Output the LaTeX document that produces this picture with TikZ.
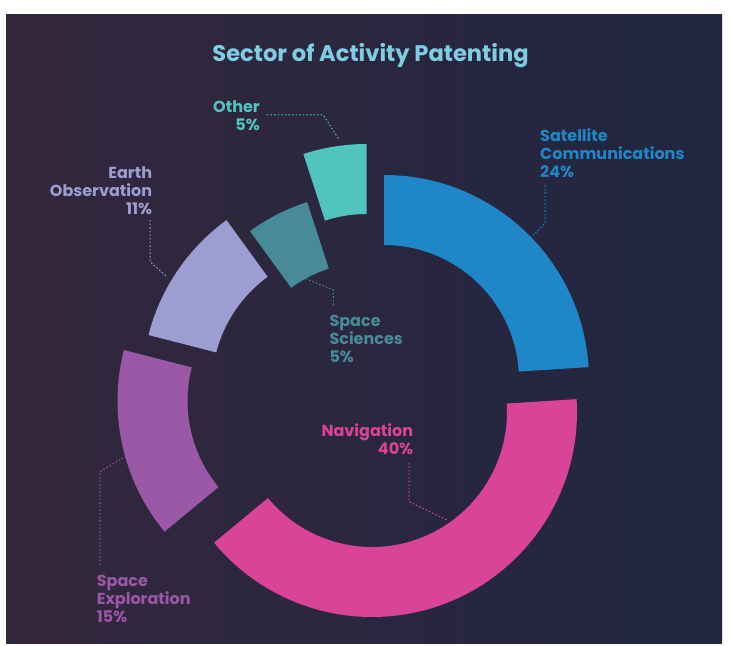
\documentclass[tikz,border=0pt]{standalone}
\usepackage{fontspec}
\setmainfont{Poppins}
\usetikzlibrary{calc}

\definecolor{bgleft}{HTML}{33273D}
\definecolor{bgright}{HTML}{212641}
\definecolor{titlecol}{HTML}{7FCDE3}
\definecolor{satcol}{HTML}{1F87C7}
\definecolor{navcol}{HTML}{D94398}
\definecolor{expcol}{HTML}{9A58A6}
\definecolor{earthcol}{HTML}{9C9DD0}
\definecolor{scicol}{HTML}{478A98}
\definecolor{othcol}{HTML}{52C4C0}

\begin{document}
\begin{tikzpicture}
[
x=1pt, y=1pt,
every node/.style={inner sep=0pt, font=\fontsize{16}{18}\selectfont\bfseries},
leader/.style={line width=1pt, dash pattern=on 1.6pt off 2pt}
]
\useasboundingbox (0,0) rectangle (730,645);
\fill[white] (0,0) rectangle (730,645);
\shade[left color=bgleft, right color=bgright] (6,2) rectangle (722,630);

% ring pieces: centre x / centre y / start / end / colour
\foreach \cx/\cy/\a/\b/\col in {384/265/90/3.6/satcol, 372/233/3.6/-140.4/navcol,
  322.5/244/-140.4/-194.4/expcol, 347/259/-194.4/-234/earthcol,
  370.5/248/-234/-252/scicol, 366.7/296/-252/-270/othcol}
  \fill[\col] ($(\cx,\cy)+(\a:205)$) arc[start angle=\a, end angle=\b, radius=205pt]
    -- ($(\cx,\cy)+(\b:135)$) arc[start angle=\b, end angle=\a, radius=135pt] -- cycle;

\node[font=\fontsize{22.6}{26}\selectfont\bfseries, text=titlecol, anchor=base] (title) at (370.5,583) {Sector of Activity Patenting};

% labels
\node[text=othcol, align=right, anchor=north east] (other) at (260,544.5) {Other\\5\%};
\node[text=earthcol, align=right, anchor=north east] (earth) at (152.3,479) {Earth\\Observation\\11\%};
\node[text=scicol, align=left, anchor=north west] (sci) at (329.3,330) {Space\\Sciences\\5\%};
\node[text=satcol, align=left, anchor=north west] (sat) at (540,517) {Satellite\\Communications\\24\%};
\node[text=navcol, align=right, anchor=north east] (nav) at (413.3,221.7) {Navigation\\40\%};
\node[text=expcol, align=left, anchor=north west] (expl) at (96.7,70) {Space\\Exploration\\15\%};

% leader ends on the ring
\coordinate (other-tip) at (339.3,505);
\coordinate (earth-tip) at (166,369);
\coordinate (sci-tip) at (305,366.7);
\coordinate (sat-tip) at (533.3,410);
\coordinate (nav-tip) at (448.3,124.3);
\coordinate (expl-tip) at (125,188.3);

\draw[leader, othcol] ([shift={(6.7,-14.5)}]other.north east) -- ++(56.6,0) -- (other-tip);
\draw[leader, earthcol] ([shift={(-2.3,-54)}]earth.north east) -- ++(0,-41.7) -- (earth-tip);
\draw[leader, scicol] ([shift={(4,10)}]sci.north west) -- ++(0,15) -- (sci-tip);
\draw[leader, satcol] ([shift={(5,-57)}]sat.north west) -- ++(0,-38.3) -- (sat-tip);
\draw[leader, navcol] ([shift={(-4.3,-39.4)}]nav.north east) -- ++(0,-39) -- (nav-tip);
\draw[leader, expcol] ([shift={(3.3,10)}]expl.north west) -- ++(0,93.3) -- (expl-tip);
\end{tikzpicture}
\end{document}
